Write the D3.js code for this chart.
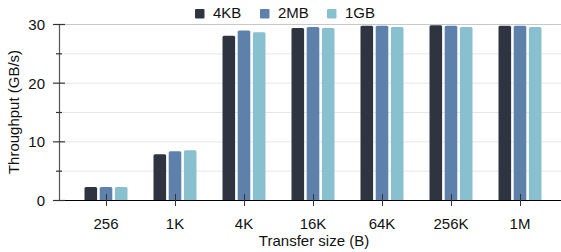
<!DOCTYPE html>
<html><head><meta charset="utf-8">
<script src="https://cdn.jsdelivr.net/npm/d3@7"></script>
<style>
html,body{margin:0;padding:0;background:#fff;}
text{font-family:"Liberation Sans",Arial,sans-serif;}
</style></head>
<body>
<svg id="c" width="561" height="252"></svg>
<script>
const categories = ["256","1K","4K","16K","64K","256K","1M"];
const seriesNames = ["4KB","2MB","1GB"];
const s4KB = [2.2, 7.8, 28.0, 29.3, 29.7, 29.8, 29.7];
const s2MB = [2.2, 8.3, 28.9, 29.5, 29.7, 29.7, 29.7];
const s1GB = [2.2, 8.5, 28.6, 29.3, 29.5, 29.5, 29.5];
const colors = ["#2e3440","#5e81ac","#88c0d0"];
const yMajorTicks = [0,10,20,30];
const yMinorTicks = [5,15,25];

const seriesValues = [s4KB, s2MB, s1GB];
const svg = d3.select("#c");
const x0 = 59, yTop = 24, yBase = 200, right = 561;
const fs = 15;

const x = d3.scaleBand().domain(categories).range([71.5, 554.5]).padding(0);
const xi = d3.scaleBand().domain(seriesNames).range([-21.5, 21.5]).paddingInner(0.17);
const y = d3.scaleLinear().domain([0,30]).range([yBase, yTop]);

// gridlines
svg.append("g").selectAll("line").data([5,10,15,20,25]).join("line")
  .attr("x1", x0).attr("x2", right).attr("y1", d=>y(d)+0.5).attr("y2", d=>y(d)+0.5)
  .attr("stroke", "#e6e6e6").attr("stroke-width", 1);
svg.append("line").attr("x1", x0).attr("x2", right).attr("y1", y(30)+0.5).attr("y2", y(30)+0.5)
  .attr("stroke", "#c8c8c8").attr("stroke-width", 1);

// bars
const data = [];
categories.forEach((c,i)=>seriesNames.forEach((s,j)=>data.push({c, s, v: seriesValues[j][i], j})));
const r = 1.5;
svg.append("g").selectAll("path").data(data).join("path")
  .attr("d", d=>{
    const bx = x(d.c) + x.bandwidth()/2 + xi(d.s);
    const w = xi.bandwidth();
    const top = y(d.v), bot = yBase;
    return `M${bx},${bot}V${top+r}Q${bx},${top} ${bx+r},${top}H${bx+w-r}Q${bx+w},${top} ${bx+w},${top+r}V${bot}Z`;
  })
  .attr("fill", d=>colors[d.j]);

// x axis baseline
svg.append("line").attr("x1", 53).attr("x2", right).attr("y1", yBase+0.5).attr("y2", yBase+0.5)
  .attr("stroke", "#000").attr("stroke-width", 1.2);

// x ticks (crossing)
svg.append("g").selectAll("line").data(categories).join("line")
  .attr("x1", d=>Math.round(x(d)+x.bandwidth()/2)+0.5).attr("x2", d=>Math.round(x(d)+x.bandwidth()/2)+0.5)
  .attr("y1", yBase-6).attr("y2", yBase+6).attr("stroke", "#333").attr("stroke-width", 1);
svg.append("g").selectAll("text").data(categories).join("text")
  .attr("x", d=>x(d)+x.bandwidth()/2).attr("y", 228.5)
  .attr("text-anchor","middle").attr("font-size", fs).attr("fill","#111").text(d=>d);

// y axis
svg.append("line").attr("x1", x0+0.5).attr("x2", x0+0.5).attr("y1", yTop).attr("y2", yBase)
  .attr("stroke", "#555").attr("stroke-width", 1.2);
svg.append("g").selectAll("line").data(yMajorTicks).join("line")
  .attr("x1", x0-6).attr("x2", x0+6).attr("y1", d=>y(d)+0.5).attr("y2", d=>y(d)+0.5)
  .attr("stroke", "#333").attr("stroke-width", 1.2);
svg.append("g").selectAll("line").data(yMinorTicks).join("line")
  .attr("x1", x0-3).attr("x2", x0+3).attr("y1", d=>y(d)+0.5).attr("y2", d=>y(d)+0.5)
  .attr("stroke", "#333").attr("stroke-width", 1.2);
svg.append("g").selectAll("text").data(yMajorTicks).join("text")
  .attr("x", 45).attr("y", d=>y(d)+6)
  .attr("text-anchor","end").attr("font-size", fs).attr("fill","#111").text(d=>d);

// axis titles
svg.append("text").attr("transform","translate(19,112) rotate(-90)")
  .attr("text-anchor","middle").attr("font-size", fs).attr("fill","#111").text("Throughput (GB/s)");
svg.append("text").attr("x", 314).attr("y", 245.5)
  .attr("text-anchor","middle").attr("font-size", fs).attr("fill","#111").text("Transfer size (B)");

// legend
const legX = [195, 260, 327];
const leg = svg.append("g").selectAll("g").data(seriesNames).join("g")
  .attr("transform", (d,i)=>`translate(${legX[i]},9)`);
leg.append("rect").attr("width", 9.5).attr("height", 9.5).attr("rx", 1).attr("fill", (d,i)=>colors[i]);
leg.append("text").attr("x", 18).attr("y", 8.5).attr("font-size", fs).attr("fill","#111").text(d=>d);
</script>
</body></html>
